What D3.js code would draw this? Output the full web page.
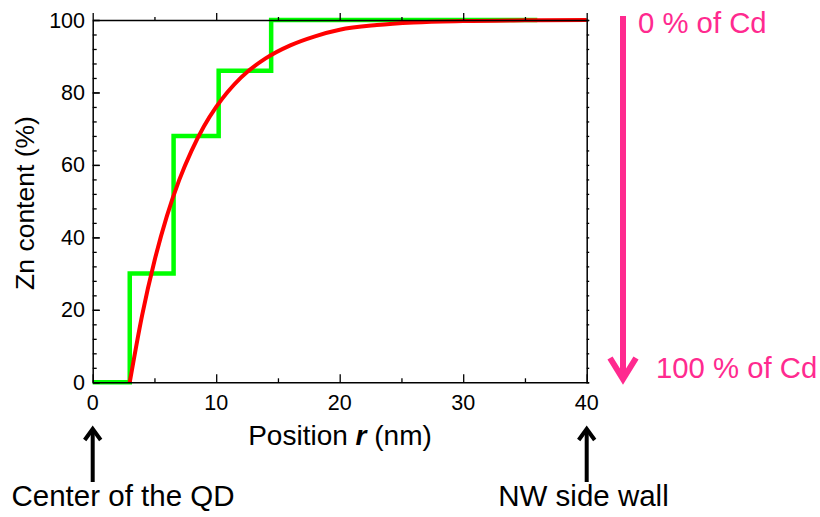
<!DOCTYPE html>
<html><head><meta charset="utf-8">
<script src="https://cdn.jsdelivr.net/npm/d3@7"></script>
<style>body{margin:0;background:#fff}svg{display:block}text{font-family:"Liberation Sans",Arial,sans-serif}</style>
</head><body>
<script>
// Data
const stepX = [0, 3.0, 6.55, 10.2, 14.45, 36];
const stepY = [0, 30, 68, 86, 100, 100];
const fitX = [3, 4, 5, 6, 7, 8, 9, 10, 12, 14, 16, 18, 20, 23, 26, 30, 35, 40];
const fitY = [0, 18.5, 33.5, 45.8, 55.8, 63.9, 70.6, 76.0, 84.1, 89.4, 93.0, 95.5, 97.3, 98.6, 99.3, 99.7, 99.9, 100];
const xTickLabels = [0, 10, 20, 30, 40];
const yTickLabels = [0, 20, 40, 60, 80, 100];

const W = 820, H = 517;
const L = 92.7, R = 586.7, T = 20, B = 382.3;
const svg = d3.select("body").append("svg").attr("width", W).attr("height", H);
const x = d3.scaleLinear().domain([0, 40]).range([L, R]);
const y = d3.scaleLinear().domain([0, 100]).range([B, T]);

// data lines
const stepData = stepX.map((v, i) => [v, stepY[i]]);
const fitData = fitX.map((v, i) => [v, fitY[i]]);
svg.append("path").datum(stepData)
  .attr("d", d3.line().x(d => x(d[0])).y(d => y(d[1])).curve(d3.curveStepAfter))
  .attr("fill", "none").attr("stroke", "#00ff00").attr("stroke-width", 4.5);
svg.append("path").datum(fitData)
  .attr("d", d3.line().x(d => x(d[0])).y(d => y(d[1])).curve(d3.curveMonotoneX))
  .attr("fill", "none").attr("stroke", "#ff0000").attr("stroke-width", 4);

// axes
const gB = svg.append("g").attr("transform", `translate(0,${B})`)
  .call(d3.axisBottom(x).tickValues(d3.range(0, 41, 5)).tickSize(0).tickFormat(""));
gB.selectAll(".tick line").attr("y2", d => d % 10 === 0 ? -8 : -4);
const gT = svg.append("g").attr("transform", `translate(0,${T})`)
  .call(d3.axisTop(x).tickValues(d3.range(0, 41, 5)).tickSize(0).tickFormat(""));
gT.selectAll(".tick line").attr("y2", d => d % 10 === 0 ? -7 : -3);
const gL = svg.append("g").attr("transform", `translate(${L},0)`)
  .call(d3.axisLeft(y).tickValues(d3.range(0, 101, 4).concat([0,20,40,60,80,100])).tickSize(0).tickFormat(""));
gL.selectAll(".tick line").attr("x2", d => d % 20 === 0 ? 7 : 4);
const gR = svg.append("g").attr("transform", `translate(${R},0)`)
  .call(d3.axisRight(y).tickValues(d3.range(0, 101, 4)).tickSize(2.5).tickFormat(""));
[gB, gT, gL, gR].forEach(g => {
  g.select(".domain").attr("stroke", "#000").attr("stroke-width", 1.5);
  g.selectAll(".tick line").attr("stroke", "#000").attr("stroke-width", 1.3);
});

// tick labels
svg.append("g").selectAll("text").data(xTickLabels).join("text")
  .attr("x", d => x(d)).attr("y", 410).attr("text-anchor", "middle")
  .attr("font-size", 21.5).attr("fill", "#000").text(d => d);
svg.append("g").selectAll("text").data(yTickLabels).join("text")
  .attr("x", 85).attr("y", d => y(d) + 7.5).attr("text-anchor", "end")
  .attr("font-size", 21.5).attr("fill", "#000").text(d => d);

// axis titles
svg.append("text").attr("transform", "translate(34,203) rotate(-90)")
  .attr("text-anchor", "middle").attr("font-size", 26.5).text("Zn content (%)");
const xt = svg.append("text").attr("x", 340).attr("y", 445).attr("text-anchor", "middle").attr("font-size", 28);
xt.append("tspan").text("Position ");
xt.append("tspan").attr("font-style", "italic").attr("font-weight", "bold").text("r");
xt.append("tspan").text(" (nm)");

// pink arrow + labels
const pink = "#ff2a8f";
svg.append("line").attr("x1", 623).attr("x2", 623).attr("y1", 16).attr("y2", 379)
  .attr("stroke", pink).attr("stroke-width", 6);
svg.append("path").attr("d", "M610,358 L623,379 L636,358")
  .attr("fill", "none").attr("stroke", pink).attr("stroke-width", 6).attr("stroke-linejoin", "miter");
svg.append("text").attr("x", 638).attr("y", 33).attr("font-size", 29.3).attr("fill", pink).text("0 % of Cd");
svg.append("text").attr("x", 656).attr("y", 378).attr("font-size", 29.3).attr("fill", pink).text("100 % of Cd");

// black arrows + labels
[[x(0), "Center of the QD", 123], [x(40), "NW side wall", 583.5]].forEach(([ax0, label, cx]) => {
  svg.append("line").attr("x1", ax0).attr("x2", ax0).attr("y1", 430).attr("y2", 482)
    .attr("stroke", "#000").attr("stroke-width", 4);
  svg.append("path").attr("d", `M${ax0 - 8},${440} L${ax0},${429} L${ax0 + 8},${440}`)
    .attr("fill", "none").attr("stroke", "#000").attr("stroke-width", 4);
  svg.append("text").attr("x", cx).attr("y", 506).attr("text-anchor", "middle")
    .attr("font-size", 29.5).attr("fill", "#000").text(label);
});
</script>
</body></html>
